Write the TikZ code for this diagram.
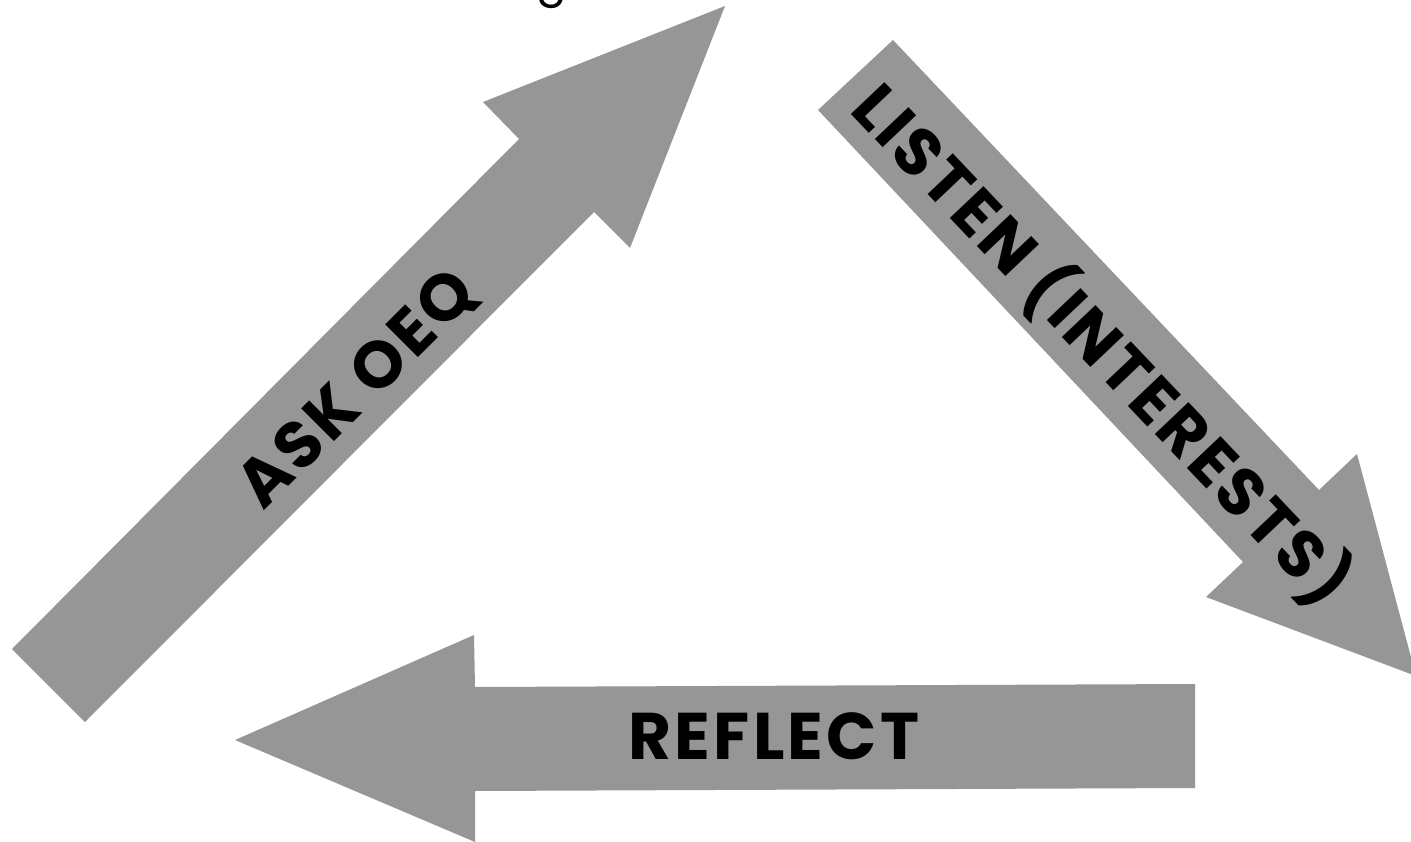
\documentclass[tikz,border=0pt]{standalone}
\usepackage{fontspec}
\setmainfont{Poppins}
\definecolor{arrowgray}{RGB}{150,150,150}
\begin{document}
\begin{tikzpicture}[x=1pt,y=-1pt,
  bigarrow/.style={fill=arrowgray,draw=none},
  lbl/.style={font=\fontsize{66}{72}\selectfont\bfseries\addfontfeatures{LetterSpace=5},text=black,inner sep=0pt}]
\useasboundingbox (0,0) rectangle (1411,842);
% ASK OEQ arrow
\fill[bigarrow] (12,649) -- (519,139) -- (483,102) -- (725,6) -- (630,248) -- (594,212) -- (85,722) -- cycle;
% LISTEN arrow
\fill[bigarrow] (818,110) -- (893,40) -- (1319,490) -- (1357,454) -- (1416,676) -- (1206,597) -- (1243,562) -- cycle;
% REFLECT arrow
\fill[bigarrow] (1195,684) -- (475,687) -- (474,635) -- (235,740) -- (475,842) -- (475,791) -- (1195,788) -- cycle;
\node[lbl,rotate=45] (ask) at (358,390) {ASK OEQ};
\node[lbl,rotate=-46.5] (listen) at (1102,345) {LISTEN (INTERESTS)};
\node[lbl] (reflect) at (774,736) {REFLECT};
\node[font=\fontsize{45}{50}\selectfont,anchor=base,inner sep=0pt] (title) at (552,-3) {g};
\end{tikzpicture}
\end{document}
